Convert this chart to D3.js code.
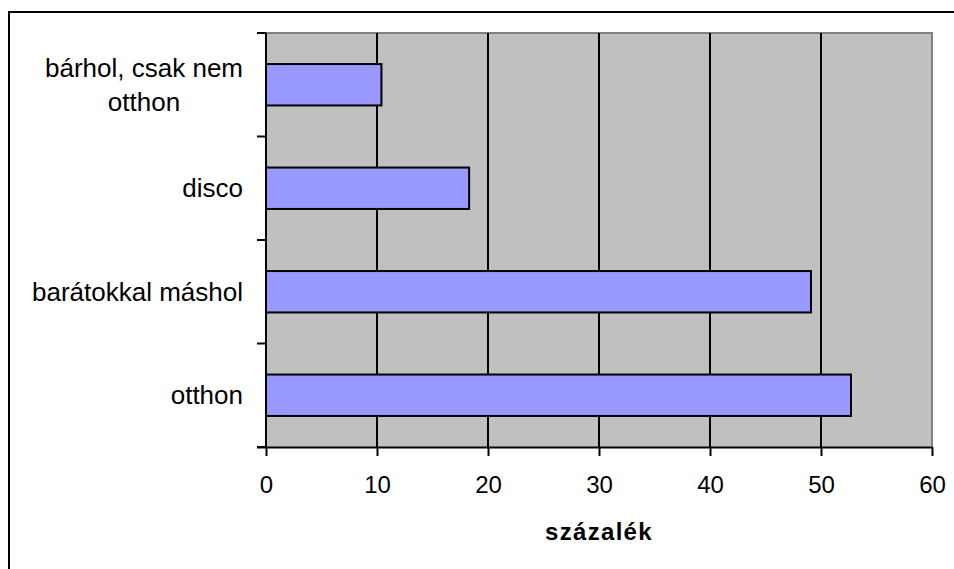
<!DOCTYPE html>
<html>
<head>
<meta charset="utf-8">
<script src="https://cdn.jsdelivr.net/npm/d3@7"></script>
<style>
  html, body { margin: 0; padding: 0; background: #fff; }
  svg { display: block; }
  text { font-family: Arial, "Liberation Sans", sans-serif; fill: #000; }
</style>
</head>
<body>
<svg id="chart" width="954" height="569"></svg>
<script>
// Where young people spend their evenings (per cent of respondents)
const categories = ["bárhol, csak nem otthon", "disco", "barátokkal máshol", "otthon"];
const values = [10.4, 18.3, 49.1, 52.7];
const xTicks = [0, 10, 20, 30, 40, 50, 60];
const xTitle = "százalék";

const svg = d3.select("#chart");
const plot = { left: 266, right: 932, top: 33, bottom: 447 };

const x = d3.scaleLinear().domain([0, 60]).range([plot.left, plot.right]);
const y = d3.scaleBand().domain(categories)
  .range([plot.top, plot.bottom])
  .paddingInner(0.6).paddingOuter(0.3);

// outer chart frame (only top and left edges fall inside the view)
svg.append("path")
  .attr("d", `M9,569 V12 H954`)
  .attr("fill", "none").attr("stroke", "#000").attr("stroke-width", 2);

// plot background
svg.append("rect")
  .attr("x", plot.left).attr("y", plot.top)
  .attr("width", plot.right - plot.left).attr("height", plot.bottom - plot.top)
  .attr("fill", "#c0c0c0");

// plot frame on top and right
svg.append("path")
  .attr("d", `M${plot.left},${plot.top} H${plot.right} V${plot.bottom}`)
  .attr("fill", "none").attr("stroke", "#808080").attr("stroke-width", 2);

// vertical gridlines
svg.append("g").selectAll("line")
  .data(xTicks.filter(t => t > 0 && t < 60))
  .join("line")
  .attr("x1", d => x(d)).attr("x2", d => x(d))
  .attr("y1", plot.top).attr("y2", plot.bottom)
  .attr("stroke", "#000").attr("stroke-width", 2);

// bars
svg.append("g").selectAll("rect")
  .data(categories.map((c, i) => ({ c, v: values[i] })))
  .join("rect")
  .attr("x", x(0))
  .attr("y", d => y(d.c))
  .attr("width", d => x(d.v) - x(0))
  .attr("height", y.bandwidth())
  .attr("fill", "#9999ff")
  .attr("stroke", "#000").attr("stroke-width", 2);

// x axis
const xAxis = svg.append("g")
  .attr("transform", `translate(0,${plot.bottom})`)
  .call(d3.axisBottom(x).tickValues(xTicks).tickSize(9).tickPadding(20).tickSizeOuter(0));
xAxis.select(".domain").attr("stroke", "#000").attr("stroke-width", 2)
  .attr("d", `M${plot.left - 9},0.5 H${plot.right}`);
xAxis.selectAll(".tick line").attr("stroke", "#000").attr("stroke-width", 2);
xAxis.selectAll(".tick text")
  .attr("font-family", "Arial, 'Liberation Sans', sans-serif")
  .attr("font-size", 24).attr("fill", "#000");

// y axis line and tick marks at category boundaries
const step = y.step();
const y0 = y(categories[0]) - step * y.paddingInner() / 2;
const bounds = d3.range(categories.length + 1).map(i => y0 + i * step);
svg.append("line")
  .attr("x1", plot.left).attr("x2", plot.left)
  .attr("y1", plot.top).attr("y2", plot.bottom)
  .attr("stroke", "#000").attr("stroke-width", 2);
svg.append("g").selectAll("line")
  .data(bounds)
  .join("line")
  .attr("x1", plot.left - 9).attr("x2", plot.left)
  .attr("y1", d => d).attr("y2", d => d)
  .attr("stroke", "#000").attr("stroke-width", 2);

// category labels, wrapped when too wide
const labelRight = 243, maxWidth = 220, fs = 26, lineH = 34;
const labels = svg.append("g");
categories.forEach(c => {
  const words = c.split(" ");
  const probe = labels.append("text").attr("font-size", fs);
  const lines = [];
  let cur = [];
  words.forEach(w => {
    const test = cur.concat(w).join(" ");
    probe.text(test);
    if (probe.node().getComputedTextLength() > maxWidth && cur.length) {
      lines.push(cur.join(" "));
      cur = [w];
    } else cur.push(w);
  });
  lines.push(cur.join(" "));
  const widths = lines.map(l => { probe.text(l); return probe.node().getComputedTextLength(); });
  probe.remove();
  const cy = y(c) + y.bandwidth() / 2;
  const maxW = d3.max(widths);
  const t = labels.append("text").attr("font-size", fs);
  lines.forEach((l, i) => {
    const base = cy + (i - (lines.length - 1) / 2) * lineH + fs * 0.35;
    t.append("tspan")
      .attr("x", lines.length > 1 ? labelRight - maxW / 2 : labelRight)
      .attr("y", base)
      .attr("text-anchor", lines.length > 1 ? "middle" : "end")
      .text(l);
  });
});

// axis title
svg.append("text")
  .attr("x", (plot.left + plot.right) / 2)
  .attr("y", 540)
  .attr("text-anchor", "middle")
  .attr("font-size", 24).attr("font-weight", "bold")
  .attr("letter-spacing", 1.3)
  .text(xTitle);
</script>
</body>
</html>
